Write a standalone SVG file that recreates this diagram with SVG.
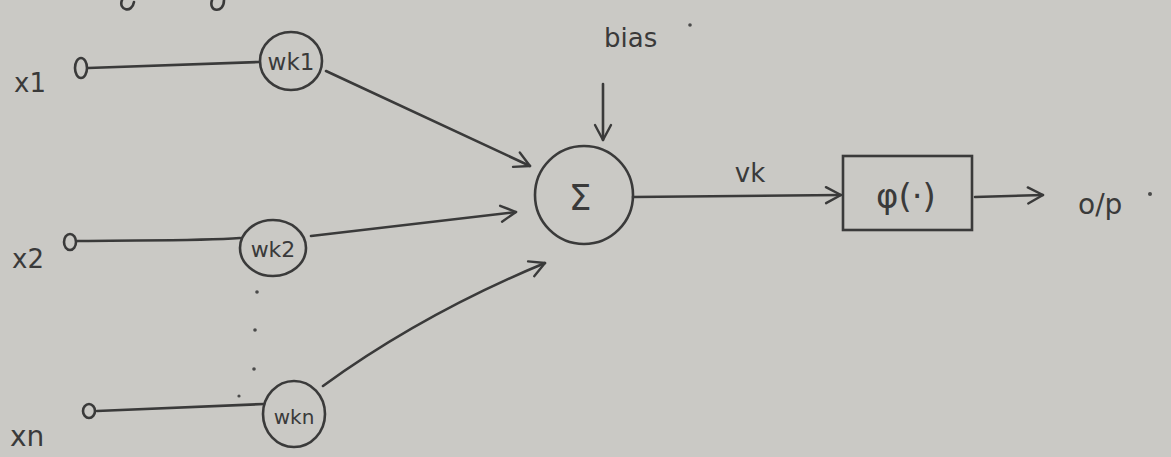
<svg xmlns="http://www.w3.org/2000/svg" width="1171" height="457" viewBox="0 0 1171 457">
  <defs>
    <marker id="open" viewBox="0 0 20 20" refX="18" refY="10" markerWidth="20" markerHeight="20" markerUnits="userSpaceOnUse" orient="auto">
      <polyline points="3,2 18,10 3,18" fill="none" stroke="#3a3a3a" stroke-width="2.4" stroke-linecap="round" stroke-linejoin="round"/>
    </marker>
  </defs>
  <style>
    .ink { fill: none; stroke: #3a3a3a; stroke-width: 2.6; stroke-linecap: round; }
    .lbl { font-family: "DejaVu Sans", "Liberation Sans", sans-serif; fill: #3a3a3a; }
    .dot { fill: #4a4a4a; }
  </style>
  <rect width="1171" height="457" fill="#cac9c5"/>

  <!-- cut-off strokes along the top edge -->
  <path class="ink" d="M122,0 C118,10 132,14 134,2"/>
  <path class="ink" d="M212,0 C208,12 224,14 224,0"/>

  <!-- input x1 -->
  <g id="input-x1">
    <text class="lbl" x="14" y="92" font-size="26">x1</text>
    <ellipse class="ink" cx="81" cy="68" rx="6" ry="10"/>
  </g>
  <!-- input x2 -->
  <g id="input-x2">
    <text class="lbl" x="12" y="268" font-size="26">x2</text>
    <ellipse class="ink" cx="70" cy="242" rx="6" ry="8"/>
  </g>
  <!-- input xn -->
  <g id="input-xn">
    <text class="lbl" x="10" y="446" font-size="28">xn</text>
    <ellipse class="ink" cx="89" cy="411" rx="6" ry="7"/>
  </g>

  <!-- weights -->
  <g id="weight-wk1">
    <ellipse class="ink" cx="291" cy="61" rx="31" ry="29"/>
    <text class="lbl" x="291" y="70" font-size="23" text-anchor="middle">wk1</text>
  </g>
  <g id="weight-wk2">
    <ellipse class="ink" cx="273" cy="248" rx="33" ry="28"/>
    <text class="lbl" x="273" y="257" font-size="22" text-anchor="middle">wk2</text>
  </g>
  <g id="weight-wkn">
    <ellipse class="ink" cx="294" cy="414" rx="31" ry="33"/>
    <text class="lbl" x="294" y="424" font-size="20" text-anchor="middle">wkn</text>
  </g>

  <!-- ellipsis between wk2 and wkn -->
  <g id="ellipsis">
    <circle class="dot" cx="257" cy="292" r="1.8"/>
    <circle class="dot" cx="255" cy="330" r="1.8"/>
    <circle class="dot" cx="254" cy="369" r="1.8"/>
    <circle class="dot" cx="239" cy="396" r="1.6"/>
  </g>

  <!-- summing junction -->
  <g id="sum">
    <circle class="ink" cx="584" cy="195" r="49"/>
    <text class="lbl" x="580" y="210" font-size="36" text-anchor="middle">Σ</text>
  </g>

  <!-- bias -->
  <g id="bias">
    <text class="lbl" x="604" y="47" font-size="26">bias</text>
    <circle class="dot" cx="690" cy="25" r="1.8"/>
  </g>

  <!-- activation block -->
  <g id="activation">
    <rect class="ink" x="843" y="156" width="129" height="74"/>
    <text class="lbl" x="906" y="208" font-size="34" text-anchor="middle">φ(·)</text>
  </g>

  <!-- output -->
  <g id="output">
    <text class="lbl" x="1078" y="214" font-size="28">o/p</text>
    <circle class="dot" cx="1150" cy="194" r="2"/>
  </g>

  <!-- vk label -->
  <text class="lbl" x="750" y="182" font-size="26" text-anchor="middle">vk</text>

  <!-- connectors -->
  <g id="connectors">
    <path class="ink" d="M88,68 L259,62"/>
    <path class="ink" d="M77,241 C140,240 200,241 240,238"/>
    <path class="ink" d="M97,411 L264,404"/>
    <path class="ink" d="M326,71 L530,166" marker-end="url(#open)"/>
    <path class="ink" d="M311,236 L516,212" marker-end="url(#open)"/>
    <path class="ink" d="M323,386 C400,330 480,290 545,263" marker-end="url(#open)"/>
    <path class="ink" d="M603,84 L603,140" marker-end="url(#open)"/>
    <path class="ink" d="M633,197 L841,195" marker-end="url(#open)"/>
    <path class="ink" d="M975,197 L1043,195" marker-end="url(#open)"/>
  </g>
</svg>
